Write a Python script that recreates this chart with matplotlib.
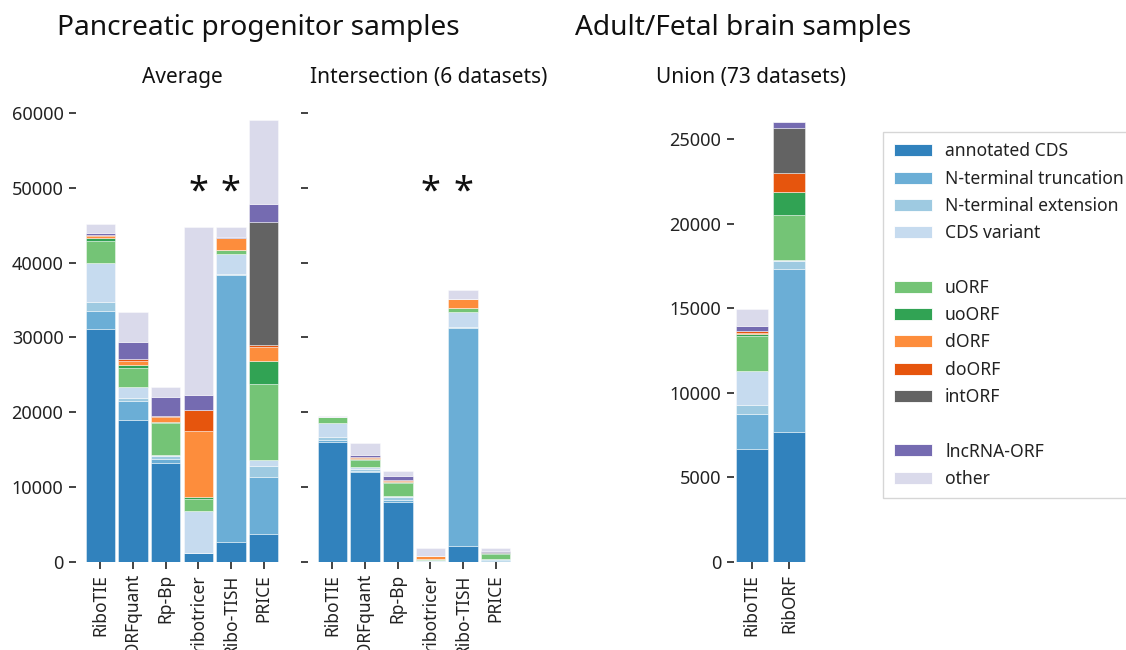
import numpy as np
import matplotlib
matplotlib.use("Agg")
import matplotlib.pyplot as plt
from matplotlib.patches import Patch

plt.rcParams['font.family'] = ['Noto Sans', 'DejaVu Sans']

# ORF categories, stacked bottom to top
categories = ['annotated CDS', 'N-terminal truncation', 'N-terminal extension', 'CDS variant',
              'uORF', 'uoORF', 'dORF', 'doORF', 'intORF', 'lncRNA-ORF', 'other']
cmap = plt.get_cmap('tab20c')
colors = [cmap(0), cmap(1), cmap(2), cmap(3),
          cmap(9), cmap(8), cmap(5), cmap(4), cmap(16), cmap(12), cmap(15)]

tools_pp = ['RiboTIE', 'ORFquant', 'Rp-Bp', 'ribotricer', 'Ribo-TISH', 'PRICE']
tools_brain = ['RiboTIE', 'RibORF']

# counts per category (rows) for each tool (columns)
average = [
    [31200, 18900, 13250, 1100, 2700, 3700],
    [2400, 2600, 450, 50, 35700, 7600],
    [1200, 350, 450, 0, 150, 1500],
    [5100, 1550, 100, 5700, 2650, 800],
    [3050, 2550, 4350, 1500, 450, 10200],
    [350, 350, 100, 350, 100, 3100],
    [300, 550, 700, 8800, 1550, 1800],
    [100, 250, 100, 2800, 50, 250],
    [0, 0, 0, 0, 0, 16450],
    [300, 2250, 2600, 1950, 50, 2400],
    [1200, 4100, 1300, 22600, 1450, 11300],
]
intersection = [
    [16000, 11950, 8050, 50, 2150, 100],
    [350, 200, 200, 0, 29100, 150],
    [300, 200, 450, 0, 100, 50],
    [1950, 350, 100, 200, 2100, 50],
    [700, 900, 1750, 50, 450, 700],
    [50, 100, 50, 0, 50, 100],
    [0, 200, 250, 400, 1150, 50],
    [0, 50, 50, 0, 50, 0],
    [0, 0, 0, 0, 0, 100],
    [0, 350, 600, 50, 0, 100],
    [150, 1550, 700, 1050, 1200, 400],
]
union = [
    [6650, 7650],
    [2100, 9650],
    [550, 500],
    [2000, 50],
    [2050, 2700],
    [100, 1350],
    [100, 0],
    [100, 1100],
    [0, 2650],
    [300, 350],
    [1000, 0],
]
starred = ['ribotricer', 'Ribo-TISH']

W, H = 1126, 650
fig = plt.figure(figsize=(W / 100, H / 100), dpi=100)


def px_axes(x0, x1, y0, y1):
    return fig.add_axes([x0 / W, 1 - y0 / H, (x1 - x0) / W, (y0 - y1) / H])


def stacked(ax, labels, data, width):
    x = np.arange(len(labels))
    bottom = np.zeros(len(labels))
    for vals, c in zip(data, colors):
        vals = np.array(vals, dtype=float)
        ax.bar(x, vals, width, bottom=bottom, color=c, edgecolor=(1, 1, 1, 0.6), linewidth=0.5)
        bottom += vals
    ax.set_xticks(x)
    ax.set_xticklabels(labels, rotation=90, fontsize=12.5)
    for s in ax.spines.values():
        s.set_visible(False)
    ax.tick_params(length=5, width=1.2, color='#222222', labelcolor='#222222',
                   labelsize=13, pad=4)
    ax.tick_params(axis='x', labelsize=12.5)


ax1 = px_axes(76, 288, 561.7, 105.8)
stacked(ax1, tools_pp, average, 0.9)
ax1.set_xlim(-0.75, 5.75)
ax1.set_ylim(0, 61000)
ax1.set_yticks(np.arange(0, 60001, 10000))

ax2 = px_axes(308, 550, 561.7, 105.8)
stacked(ax2, tools_pp, intersection, 0.9)
ax2.set_xlim(-0.75, 6.66)
ax2.set_ylim(0, 61000)
ax2.set_yticks(np.arange(0, 60001, 10000))
ax2.set_yticklabels([])

ax3 = px_axes(734, 812, 561.7, 114)
stacked(ax3, tools_brain, union, 0.85)
ax3.set_xlim(-0.47, 1.6)
ax3.set_ylim(0, 26500)
ax3.set_yticks(np.arange(0, 25001, 5000))

for ax in (ax1, ax2):
    for name in starred:
        ax.text(tools_pp.index(name), 49400, '*', ha='center', va='center',
                fontsize=26, color='#111111')

fig.text(57 / W, 1 - 28 / H, 'Pancreatic progenitor samples', fontsize=20.2,
         ha='left', va='center', color='#111111')
fig.text(575 / W, 1 - 28 / H, 'Adult/Fetal brain samples', fontsize=20.2,
         ha='left', va='center', color='#111111')
fig.text(182 / W, 1 - 77 / H, 'Average', fontsize=15, ha='center', va='center', color='#111111')
fig.text(429 / W, 1 - 77 / H, 'Intersection (6 datasets)', fontsize=15, ha='center',
         va='center', color='#111111')
fig.text(751 / W, 1 - 77 / H, 'Union (73 datasets)', fontsize=15, ha='center',
         va='center', color='#111111')

# legend with blank rows between the category groups
handles = []
labels = []
for name, c in zip(categories, colors):
    if name in ('uORF', 'lncRNA-ORF'):
        handles.append(Patch(color='none'))
        labels.append('')
    handles.append(Patch(facecolor=c, edgecolor='white', linewidth=0.6))
    labels.append(name)
leg = fig.legend(handles, labels, loc='upper left', bbox_to_anchor=(883 / W, 1 - 132 / H),
                 fontsize=12.6, frameon=True, fancybox=False, handlelength=2.2,
                 handleheight=0.68, labelspacing=0.53, borderpad=0.6, handletextpad=0.75,
                 borderaxespad=0)
leg.get_frame().set_edgecolor('#cccccc')
leg.get_frame().set_linewidth(1.0)
for t in leg.get_texts():
    t.set_color('#222222')

fig.savefig('out.png', dpi=100)
